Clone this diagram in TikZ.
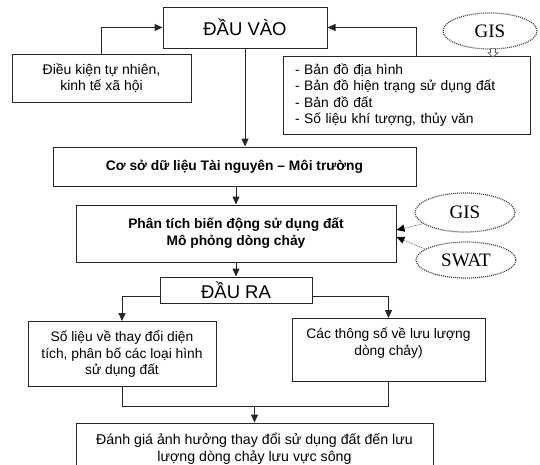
\documentclass[tikz,border=0pt]{standalone}
\usepackage{fontspec}
\setmainfont{Liberation Sans}
\newfontfamily\serifx{Liberation Serif}
\usetikzlibrary{arrows.meta,shapes.geometric}
\begin{document}
\begin{tikzpicture}[x=1pt,y=-1pt,
  box/.style={draw=black!85, line width=1pt, inner sep=0pt, align=center, font=\fontsize{13.8}{16.5}\selectfont},
  big/.style={font=\fontsize{18.5}{20}\selectfont},
  ell/.style={ellipse, draw=black!75, dash pattern=on 1pt off 1pt, line width=1.2pt, inner sep=0pt, font=\serifx\fontsize{19}{20}\selectfont},
  conn/.style={draw=black!85, line width=1pt},
  arr/.style={conn, -{Triangle[length=8pt,width=7pt]}},
  thinarr/.style={draw=black!50, line width=0.8pt, dash pattern=on 1pt off 0.8pt, -{Triangle[length=8pt,width=7pt,black]}},
  hollow/.style={draw=black!65, line width=0.7pt, fill=white},
]
\useasboundingbox (0,0) rectangle (540,464);

\node[box, big, minimum width=164pt, minimum height=41pt] (in) at (245,27.5) {ĐẦU VÀO};
\node[box, font=\fontsize{14}{16.5}\selectfont, minimum width=179pt, minimum height=48pt] (cond) at (101.5,78) {Điều kiện tự nhiên,\\kinh tế xã hội};
\node[box, minimum width=247pt, minimum height=78pt, align=left, text width=223pt] (maps) at (406.5,95) {- Bản đồ địa hình\\- Bản đồ hiện trạng sử dụng đất\\- Bản đồ đất\\- Số liệu khí tượng, thủy văn};
\node[ell, minimum width=94pt, minimum height=36pt] (gis1) at (490,31) {GIS};

\node[box, font=\bfseries\fontsize{13.8}{16}\selectfont, minimum width=363pt, minimum height=39pt] (db) at (234.5,166.5) {Cơ sở dữ liệu Tài nguyên – Môi trường};
\node[box, font=\bfseries\fontsize{13.8}{17}\selectfont, minimum width=320pt, minimum height=57pt] (ana) at (236,233.5) {Phân tích biến động sử dụng đất\\Mô phỏng dòng chảy};
\node[ell, minimum width=100pt, minimum height=39pt] (gis2) at (465,212.5) {GIS};
\node[ell, minimum width=100pt, minimum height=36pt] (swat) at (466,260) {SWAT};

\node[box, big, minimum width=152pt, minimum height=26pt] (out) at (236,290) {ĐẦU RA};
\node[box, minimum width=188pt, minimum height=65pt] (res1) at (122,354) {Số liệu về thay đổi diện\\tích, phân bố các loại hình\\sử dụng đất};
\node[box, minimum width=193pt, minimum height=63pt] (res2) at (388.5,350) {Các thông số về lưu lượng\\dòng chảy)\\\mbox{}};
\node[box, font=\fontsize{14.2}{17}\selectfont, minimum width=357pt, minimum height=51pt] (fin) at (254.5,448.5) {Đánh giá ảnh hưởng thay đổi sử dụng đất đến lưu\\lượng dòng chảy lưu vực sông};

\draw[arr] (cond.north) |- (in.west);
\draw[arr] ([xshift=9.5pt]maps.north) |- (in.east);
\draw[hollow] ([xshift=3pt]gis1.south) ++(-2.5,-1) -- ++(0,4) -- ++(-2.5,0) -- ++(5,4.5) -- ++(5,-4.5) -- ++(-2.5,0) -- ++(0,-4) -- cycle;
\draw[arr] (in.south) -- (in.south |- db.north);
\draw[arr] (db.south -| ana.north) -- (ana.north);
\draw[thinarr] (gis2.195) -- ([yshift=3.5pt]ana.east);
\draw[thinarr] (swat.165) -- ([yshift=-3.5pt]ana.east);
\draw[arr] (ana.south) -- (out.north);
\draw[arr] ([yshift=-6pt]out.west) -| (res1.north);
\draw[arr] ([yshift=-6pt]out.east) -| (res2.north);
\coordinate (m) at (254.5,406);
\draw[conn] (res1.south) |- (m) -| (res2.south);
\draw[arr] (m) -- (m |- fin.north);
\end{tikzpicture}
\end{document}
